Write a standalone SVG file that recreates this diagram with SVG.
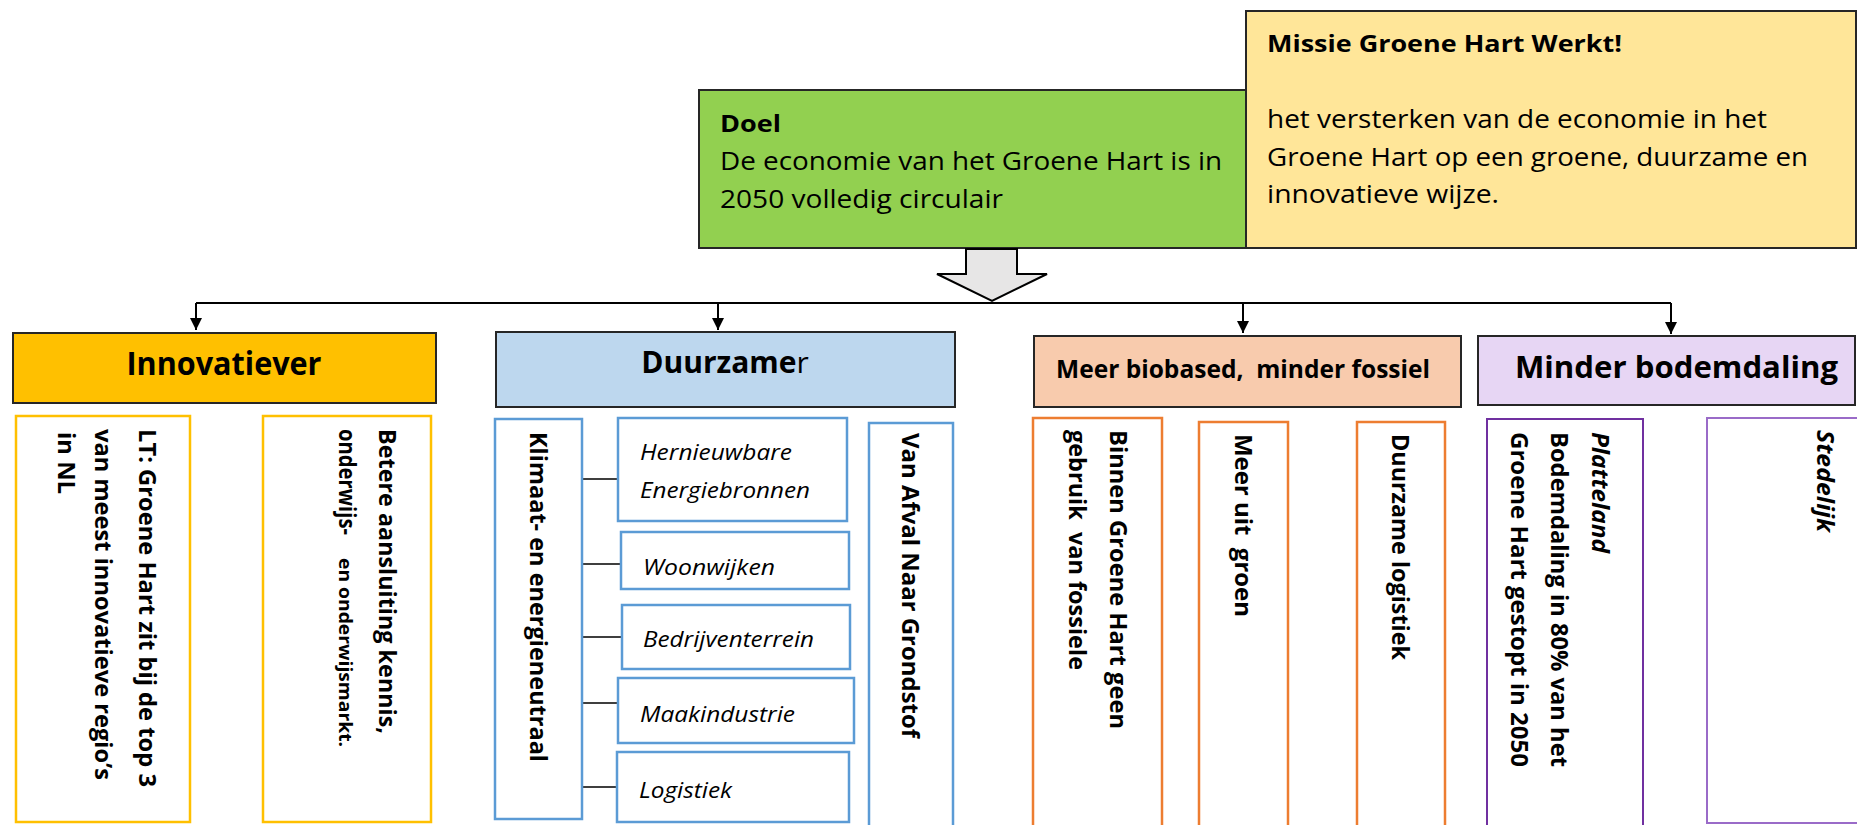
<svg xmlns="http://www.w3.org/2000/svg" width="1857" height="825" viewBox="0 0 1857 825">
<defs>
<style>
text{font-family:"Open Sans","Liberation Sans",sans-serif;fill:#000}
.hdr{stroke:#262626;stroke-width:2}
.b{font-weight:bold}
.i{font-style:italic}
.v{font-weight:bold;font-size:24px}
.sub{font-style:italic;font-size:21px}
.y{fill:#fff;stroke:#FFC000;stroke-width:2.5}
.bl{fill:#fff;stroke:#5B9BD5;stroke-width:2.5}
.or{fill:#fff;stroke:#ED7D31;stroke-width:2.5}
.pu{fill:#fff;stroke:#7030A0;stroke-width:2}
.pu2{fill:#fff;stroke:#9A6BC8;stroke-width:2}
.con{fill:none;stroke:#000;stroke-width:2}
.thin{fill:none;stroke:#000;stroke-width:1.3}
</style>
<marker id="ah" viewBox="0 0 10 10" refX="10" refY="5" markerWidth="6" markerHeight="6" markerUnits="strokeWidth" orient="auto">
<path d="M0,0 L10,5 L0,10 z" fill="#000"/>
</marker>
</defs>
<rect width="1857" height="825" fill="#fff"/>

<g id="missie">
<rect x="1246" y="11" width="610" height="237" fill="#FFE699" class="hdr"/>
<text x="1267" y="52" class="b" font-size="23" textLength="355" lengthAdjust="spacingAndGlyphs">Missie Groene Hart Werkt!</text>
<text x="1267" y="128" font-size="25" textLength="500" lengthAdjust="spacingAndGlyphs">het versterken van de economie in het</text>
<text x="1267" y="166" font-size="25" textLength="541" lengthAdjust="spacingAndGlyphs">Groene Hart op een groene, duurzame en</text>
<text x="1267" y="203" font-size="25" textLength="232" lengthAdjust="spacingAndGlyphs">innovatieve wijze.</text>
</g>

<g id="doel">
<rect x="699" y="90" width="547" height="158" fill="#92D050" class="hdr"/>
<text x="720" y="132" class="b" font-size="24" textLength="61" lengthAdjust="spacingAndGlyphs">Doel</text>
<text x="720" y="170" font-size="25" textLength="502" lengthAdjust="spacingAndGlyphs">De economie van het Groene Hart is in</text>
<text x="720" y="208" font-size="25" textLength="283" lengthAdjust="spacingAndGlyphs">2050 volledig circulair</text>
</g>

<g id="connectors">
<path d="M966,249 L966,274 L937,274 L992,301 L1047,274 L1017,274 L1017,249 Z" fill="#E7E6E6" stroke="#000" stroke-width="2"/>
<path class="con" d="M196,303 L1671,303"/>
<path class="con" d="M196,303 L196,330" marker-end="url(#ah)"/>
<path class="con" d="M718,303 L718,330" marker-end="url(#ah)"/>
<path class="con" d="M1243,303 L1243,333" marker-end="url(#ah)"/>
<path class="con" d="M1671,303 L1671,334" marker-end="url(#ah)"/>
<path class="thin" d="M582,479 L618,479 M582,564 L621,564 M582,637 L622,637 M582,703 L618,703 M582,787 L617,787"/>
</g>

<g id="innovatiever">
<rect x="13" y="333" width="423" height="70" fill="#FFC000" class="hdr"/>
<text x="224" y="375" text-anchor="middle" class="b" font-size="32" textLength="195" lengthAdjust="spacingAndGlyphs">Innovatiever</text>
</g>
<g id="innov-lt">
<rect x="16" y="416" width="174" height="406" class="y"/>
<text class="v" transform="translate(139,429) rotate(90)" textLength="358" lengthAdjust="spacingAndGlyphs">LT: Groene Hart zit bij de top 3</text>
<text class="v" transform="translate(95,429) rotate(90)" textLength="351" lengthAdjust="spacingAndGlyphs">van meest innovatieve regio’s</text>
<text class="v" transform="translate(58,432) rotate(90)" textLength="62" lengthAdjust="spacingAndGlyphs">in NL</text>
</g>
<g id="innov-aansluiting">
<rect x="263" y="416" width="168" height="406" class="y"/>
<text class="v" transform="translate(379,429) rotate(90)" textLength="305" lengthAdjust="spacingAndGlyphs">Betere aansluiting kennis,</text>
<text class="v" transform="translate(339,429) rotate(90)" textLength="106" lengthAdjust="spacingAndGlyphs">onderwijs-</text>
<text class="b" font-size="17" transform="translate(339,558) rotate(90)" textLength="189" lengthAdjust="spacingAndGlyphs">en onderwijsmarkt.</text>
</g>

<g id="duurzamer">
<rect x="496" y="332" width="459" height="75" fill="#BDD7EE" class="hdr"/>
<text x="725" y="373" text-anchor="middle" class="b" font-size="30">Duurzame<tspan font-weight="normal">r</tspan></text>
</g>
<g id="klimaat">
<rect x="495" y="419" width="87" height="400" class="bl"/>
<text class="v" transform="translate(530,432) rotate(90)" textLength="330" lengthAdjust="spacingAndGlyphs">Klimaat- en energieneutraal</text>
</g>
<g id="hernieuwbare">
<rect x="618" y="418" width="229" height="103" class="bl"/>
<text x="640" y="460" class="sub" textLength="152" lengthAdjust="spacingAndGlyphs">Hernieuwbare</text>
<text x="640" y="498" class="sub" textLength="170" lengthAdjust="spacingAndGlyphs">Energiebronnen</text>
</g>
<g id="woonwijken">
<rect x="621" y="532" width="228" height="57" class="bl"/>
<text x="643" y="575" class="sub" textLength="132" lengthAdjust="spacingAndGlyphs">Woonwijken</text>
</g>
<g id="bedrijventerrein">
<rect x="622" y="605" width="228" height="64" class="bl"/>
<text x="643" y="647" class="sub" textLength="171" lengthAdjust="spacingAndGlyphs">Bedrijventerrein</text>
</g>
<g id="maakindustrie">
<rect x="618" y="678" width="236" height="65" class="bl"/>
<text x="640" y="722" class="sub" textLength="155" lengthAdjust="spacingAndGlyphs">Maakindustrie</text>
</g>
<g id="logistiek">
<rect x="617" y="752" width="232" height="70" class="bl"/>
<text x="639" y="798" class="sub" textLength="93" lengthAdjust="spacingAndGlyphs">Logistiek</text>
</g>
<g id="afval">
<rect x="869" y="423" width="84" height="420" class="bl"/>
<text class="v" transform="translate(902,433) rotate(90)" textLength="305" lengthAdjust="spacingAndGlyphs">Van Afval Naar Grondstof</text>
</g>

<g id="biobased">
<rect x="1034" y="336" width="427" height="71" fill="#F8CBAD" class="hdr"/>
<text x="1056" y="378" class="b" font-size="25" textLength="374" lengthAdjust="spacingAndGlyphs">Meer biobased,&#160; minder fossiel</text>
</g>
<g id="fossiel">
<rect x="1033" y="418" width="129" height="420" class="or"/>
<text class="v" transform="translate(1110,430) rotate(90)" textLength="299" lengthAdjust="spacingAndGlyphs">Binnen Groene Hart geen</text>
<text class="v" transform="translate(1069,430) rotate(90)" textLength="240" lengthAdjust="spacingAndGlyphs">gebruik&#160; van fossiele</text>
</g>
<g id="groen">
<rect x="1199" y="422" width="89" height="420" class="or"/>
<text class="v" transform="translate(1235,434) rotate(90)" textLength="183" lengthAdjust="spacingAndGlyphs">Meer uit&#160; groen</text>
</g>
<g id="duurzame-logistiek">
<rect x="1357" y="422" width="88" height="420" class="or"/>
<text class="v" transform="translate(1392,434) rotate(90)" textLength="226" lengthAdjust="spacingAndGlyphs">Duurzame logistiek</text>
</g>

<g id="bodemdaling">
<rect x="1478" y="336" width="377" height="69" fill="#E7D6F4" class="hdr"/>
<text x="1515" y="378" class="b" font-size="31" textLength="323" lengthAdjust="spacingAndGlyphs">Minder bodemdaling</text>
</g>
<g id="platteland">
<rect x="1487" y="419" width="156" height="420" class="pu"/>
<text class="v i" transform="translate(1592,432) rotate(90)" textLength="121" lengthAdjust="spacingAndGlyphs">Platteland</text>
<text class="v" transform="translate(1551,432) rotate(90)" textLength="335" lengthAdjust="spacingAndGlyphs">Bodemdaling in 80% van het</text>
<text class="v" transform="translate(1511,432) rotate(90)" textLength="335" lengthAdjust="spacingAndGlyphs">Groene Hart gestopt in 2050</text>
</g>
<g id="stedelijk">
<rect x="1707" y="418" width="160" height="405" class="pu2"/>
<text class="v i" transform="translate(1817,430) rotate(90)" textLength="102" lengthAdjust="spacingAndGlyphs">Stedelijk</text>
</g>
</svg>
